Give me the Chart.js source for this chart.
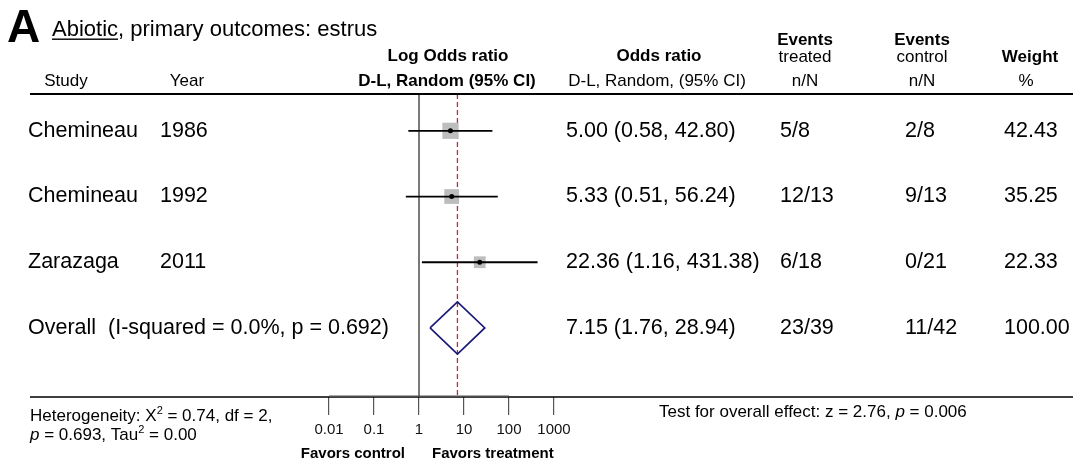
<!DOCTYPE html>
<html>
<head>
<meta charset="utf-8">
<script src="https://cdn.jsdelivr.net/npm/chart.js@4.4.0/dist/chart.umd.min.js"></script>
<style>
  html, body { margin: 0; padding: 0; background: #fff; }
  #wrap { width: 1073px; height: 464px; position: relative; }
</style>
</head>
<body>
<div id="wrap"><canvas id="forest"></canvas></div>
<script>
// study rows
const STUDIES = ['Chemineau', 'Chemineau', 'Zarazaga'];
const YEARS = ['1986', '1992', '2011'];
const ODDS = [5.00, 5.33, 22.36];
const CI_LOW = [0.58, 0.51, 1.16];
const CI_HIGH = [42.80, 56.24, 431.38];
const EVENTS_TREATED = ['5/8', '12/13', '6/18'];
const EVENTS_CONTROL = ['2/8', '9/13', '0/21'];
const WEIGHTS = [42.43, 35.25, 22.33];

// pooled (random effects) row
const OVERALL_LABEL = 'Overall  (I-squared = 0.0%, p = 0.692)';
const OVERALL_OR = 7.15;
const OVERALL_LOW = 1.76;
const OVERALL_HIGH = 28.94;
const OVERALL_TREATED = '23/39';
const OVERALL_CONTROL = '11/42';
const OVERALL_WEIGHT = 100.00;

// axis
const X_TICKS = [0.01, 0.1, 1, 10, 100, 1000];
const X_TICK_LABELS = ['0.01', '0.1', '1', '10', '100', '1000'];
const NULL_VALUE = 1;

const FONT = "'Liberation Sans', Arial, Helvetica, sans-serif";
const Y_MIN = -0.56, Y_MAX = 4.05;
const OVERALL_ROW = STUDIES.length;
const DIAMOND_HALF = 0.396;

Chart.defaults.font.family = FONT;

const fmt = v => v.toFixed(2);

const datasets = [];

// centre dots
datasets.push({
  order: 0,
  data: ODDS.map((v, i) => ({ x: v, y: i })),
  pointStyle: 'circle', pointRadius: 2.5,
  backgroundColor: '#000', borderWidth: 0, showLine: false
});

// confidence intervals
ODDS.forEach((v, i) => {
  datasets.push({
    order: 1,
    data: [{ x: CI_LOW[i], y: i }, { x: CI_HIGH[i], y: i }],
    showLine: true, borderColor: '#000', borderWidth: 1.8,
    pointRadius: 0, fill: false
  });
});

// weight boxes
datasets.push({
  order: 2,
  data: ODDS.map((v, i) => ({ x: v, y: i })),
  pointStyle: 'rect',
  pointRadius: WEIGHTS.map(w => 1.76 * Math.sqrt(w)),
  backgroundColor: '#bdbdbd', borderWidth: 0, showLine: false
});

// pooled diamond
datasets.push({
  order: 3,
  data: [
    { x: OVERALL_LOW, y: OVERALL_ROW },
    { x: OVERALL_OR, y: OVERALL_ROW - DIAMOND_HALF },
    { x: OVERALL_HIGH, y: OVERALL_ROW },
    { x: OVERALL_OR, y: OVERALL_ROW + DIAMOND_HALF },
    { x: OVERALL_LOW, y: OVERALL_ROW }
  ],
  showLine: true, borderColor: '#1a1a78', borderWidth: 1.7,
  pointRadius: 0, fill: false, tension: 0
});

// pooled estimate line (dashed)
datasets.push({
  order: 4,
  data: [{ x: OVERALL_OR, y: Y_MIN }, { x: OVERALL_OR, y: Y_MAX }],
  showLine: true, borderColor: '#c0282d', borderWidth: 1.3, borderDash: [5, 3],
  pointRadius: 0, fill: false
});

// line of no effect
datasets.push({
  order: 5,
  data: [{ x: NULL_VALUE, y: Y_MIN }, { x: NULL_VALUE, y: Y_MAX }],
  showLine: true, borderColor: '#333', borderWidth: 1.3,
  pointRadius: 0, fill: false
});

function put(ctx, s, x, y, font, align) {
  ctx.font = font;
  ctx.textAlign = align || 'left';
  ctx.fillText(s, x, y);
}

// draw a row of text runs (for superscripts / italics)
function runs(ctx, parts, x, y) {
  ctx.textAlign = 'left';
  parts.forEach(p => {
    ctx.font = p.font;
    ctx.fillText(p.t, x, y - (p.dy || 0));
    x += ctx.measureText(p.t).width;
  });
}

const tablePlugin = {
  id: 'forestTable',
  afterDraw(chart) {
    const ctx = chart.ctx;
    const area = chart.chartArea;
    const xs = chart.scales.x;
    const ys = chart.scales.y;
    ctx.save();
    ctx.fillStyle = '#000';
    ctx.textBaseline = 'alphabetic';

    // panel letter and title
    put(ctx, 'A', 7, 42, 'bold 46px ' + FONT);
    ctx.font = '22px ' + FONT;
    put(ctx, 'Abiotic', 52, 36, '22px ' + FONT);
    const w = ctx.measureText('Abiotic').width;
    ctx.fillRect(52, 38.5, w, 1.4);
    put(ctx, ', primary outcomes: estrus', 52 + w, 36, '22px ' + FONT);

    // column headers
    const hb = 'bold 17px ' + FONT, hn = '17px ' + FONT;
    put(ctx, 'Log Odds ratio', 448, 61, hb, 'center');
    put(ctx, 'D-L, Random (95% CI)', 447, 86, hb, 'center');
    put(ctx, 'Study', 66, 86, hn, 'center');
    put(ctx, 'Year', 187, 86, hn, 'center');
    put(ctx, 'Odds ratio', 659, 61, hb, 'center');
    put(ctx, 'D-L, Random, (95% CI)', 657, 86, hn, 'center');
    put(ctx, 'Events', 805, 45, hb, 'center');
    put(ctx, 'treated', 805, 62, hn, 'center');
    put(ctx, 'n/N', 805, 86, hn, 'center');
    put(ctx, 'Events', 922, 45, hb, 'center');
    put(ctx, 'control', 922, 62, hn, 'center');
    put(ctx, 'n/N', 922, 86, hn, 'center');
    put(ctx, 'Weight', 1030, 62, hb, 'center');
    put(ctx, '%', 1026, 86, hn, 'center');

    // rules
    ctx.fillRect(30, area.top - 1, 1043, 2);
    ctx.fillRect(30, area.bottom - 0.75, 1043, 1.5);
    // axis line spans 0.01 .. 100
    ctx.fillStyle = '#555';
    const a0 = xs.getPixelForValue(X_TICKS[0]);
    const a1 = xs.getPixelForValue(X_TICKS[X_TICKS.length - 2]);
    ctx.fillRect(a0, area.bottom - 1.5, a1 - a0, 1.2);
    ctx.fillStyle = '#000';

    // rows
    const rf = '21.5px ' + FONT;
    ctx.textBaseline = 'middle';
    STUDIES.forEach((s, i) => {
      const y = ys.getPixelForValue(i);
      put(ctx, s, 28, y, rf);
      put(ctx, YEARS[i], 160, y, rf);
      put(ctx, `${fmt(ODDS[i])} (${fmt(CI_LOW[i])}, ${fmt(CI_HIGH[i])})`, 566, y, rf);
      put(ctx, EVENTS_TREATED[i], 780, y, rf);
      put(ctx, EVENTS_CONTROL[i], 905, y, rf);
      put(ctx, fmt(WEIGHTS[i]), 1004, y, rf);
    });
    const yo = ys.getPixelForValue(OVERALL_ROW);
    put(ctx, OVERALL_LABEL, 28, yo, rf);
    put(ctx, `${fmt(OVERALL_OR)} (${fmt(OVERALL_LOW)}, ${fmt(OVERALL_HIGH)})`, 566, yo, rf);
    put(ctx, OVERALL_TREATED, 780, yo, rf);
    put(ctx, OVERALL_CONTROL, 905, yo, rf);
    put(ctx, fmt(OVERALL_WEIGHT), 1004, yo, rf);

    // footer
    ctx.textBaseline = 'alphabetic';
    const ff = '17px ' + FONT, fs = '11px ' + FONT, fi = 'italic 17px ' + FONT;
    runs(ctx, [
      { t: 'Heterogeneity: X', font: ff },
      { t: '2', font: fs, dy: 7 },
      { t: ' = 0.74, df = 2,', font: ff }
    ], 30, 421);
    runs(ctx, [
      { t: 'p', font: fi },
      { t: ' = 0.693, Tau', font: ff },
      { t: '2', font: fs, dy: 7 },
      { t: ' = 0.00', font: ff }
    ], 30, 440);
    runs(ctx, [
      { t: 'Test for overall effect: z = 2.76, ', font: ff },
      { t: 'p', font: fi },
      { t: ' = 0.006', font: ff }
    ], 659, 417);
    put(ctx, 'Favors control', 405, 458, 'bold 15px ' + FONT, 'right');
    put(ctx, 'Favors treatment', 432, 458, 'bold 15px ' + FONT, 'left');
    ctx.restore();
  }
};

new Chart(document.getElementById('forest'), {
  type: 'scatter',
  data: { datasets },
  options: {
    responsive: true,
    maintainAspectRatio: false,
    animation: false,
    events: [],
    layout: { padding: { left: 329, right: 519, top: 94, bottom: 7 } },
    plugins: { legend: { display: false }, tooltip: { enabled: false } },
    scales: {
      x: {
        type: 'logarithmic', min: 0.01, max: 1000, position: 'bottom',
        afterBuildTicks: axis => { axis.ticks = X_TICKS.map(v => ({ value: v })); },
        afterFit: axis => { axis.height = 60; },
        grid: { drawOnChartArea: false, drawTicks: true, tickLength: 18, color: '#555', lineWidth: 1.2 },
        border: { display: false },
        ticks: {
          autoSkip: false, maxRotation: 0, padding: 6, color: '#111',
          font: { size: 15 },
          callback: (v, i) => X_TICK_LABELS[i]
        }
      },
      y: { type: 'linear', min: Y_MIN, max: Y_MAX, reverse: true, display: false }
    }
  },
  plugins: [tablePlugin]
});
</script>
</body>
</html>
